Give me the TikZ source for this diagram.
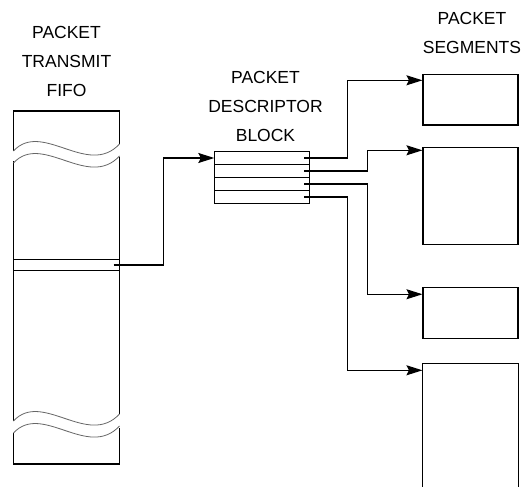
\documentclass[tikz,border=0pt]{standalone}
\usepackage{fontspec}
\setmainfont{Liberation Sans}
\usetikzlibrary{arrows.meta, positioning}

\begin{document}
\begin{tikzpicture}[
    x=1pt, y=-1pt,
    line width=1.1pt,
    label/.style={align=center, inner sep=0pt, anchor=north,
                  font=\fontsize{17.5}{29}\selectfont},
    rowbox/.style={rectangle, draw, minimum width=95pt, minimum height=13pt,
                   inner sep=0pt, outer sep=0pt},
    segbox/.style={rectangle, draw, minimum width=95pt, inner sep=0pt},
    link/.style={-{Stealth[length=16pt, width=10pt, inset=2.5pt]}},
    wave/.style={line width=0.8pt, draw=black!60},
  ]
    \useasboundingbox (0,0) rectangle (523,487);

    % labels
    \node[label] (fifolabel) at (66.5,25.5) {PACKET\\TRANSMIT\\FIFO};
    \node[label] (pdblabel) at (265.5,71) {PACKET\\DESCRIPTOR\\BLOCK};
    \node[label] (seglabel) at (472,12) {PACKET\\SEGMENTS};

    % transmit fifo column with breaks
    \draw (13.5,151) -- (13.5,111) -- (119.5,111) -- (119.5,144);
    \draw (13.5,161) -- (13.5,421);
    \draw (119.5,157) -- (119.5,414);
    \draw (13.5,433) -- (13.5,464) -- (119.5,464) -- (119.5,428);
    \foreach \yb/\yc in {0/12, 270/282}{
      \draw[wave] (13.5,151+\yb) .. controls (42,120+\yb) and (88,178+\yb) .. (119.5,144+\yb);
      \draw[wave] (13.5,151+\yc) .. controls (42,120+\yc) and (88,178+\yc) .. (119.5,144+\yc);
    }
    \node[rowbox, minimum width=106pt, minimum height=11pt] (slot) at (66.5,265) {};

    % descriptor block
    \node[rowbox] (row1) at (261.8,158) {};
    \node[rowbox, below=0pt of row1] (row2) {};
    \node[rowbox, below=0pt of row2] (row3) {};
    \node[rowbox, below=0pt of row3] (row4) {};

    % segments
    \node[segbox, minimum height=50.7pt] (seg1) at (470.5,99.7) {};
    \node[segbox, minimum height=96.7pt] (seg2) at (470.5,195.7) {};
    \node[segbox, minimum height=51pt] (seg3) at (470.5,312.8) {};
    \node[segbox, draw=none, minimum height=122.7pt] (seg4) at (470.5,425.7) {};
    \draw (seg4.south west) -- (seg4.north west) -- (seg4.north east) -- (seg4.south east);

    % connectors
    \draw[link] ([xshift=-6pt]slot.east) -- ++(50,0) |- (row1.west);
    \draw[link] ([xshift=-5pt]row1.east) -- ++(43,0) |- ([yshift=-6.5pt]seg1.north west);
    \draw[link] ([xshift=-5pt]row2.east) -- ++(63,0) |- ([yshift=-3.5pt]seg2.north west);
    \draw[link] ([xshift=-5pt]row3.east) -- ++(63,0) |- ([yshift=-7.5pt]seg3.north west);
    \draw[link] ([xshift=-5pt]row4.east) -- ++(43,0) |- ([yshift=-6.5pt]seg4.north west);
\end{tikzpicture}
\end{document}
